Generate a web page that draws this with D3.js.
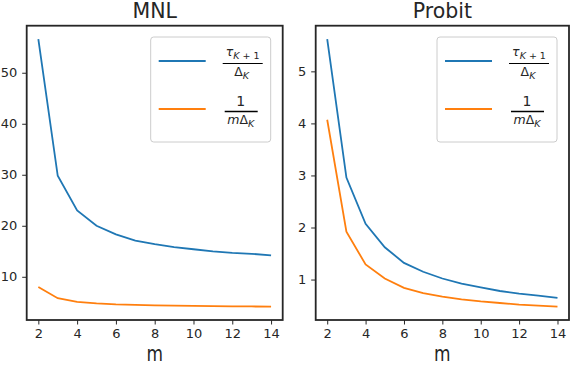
<!DOCTYPE html>
<html>
<head>
<meta charset="utf-8">
<script src="https://cdn.jsdelivr.net/npm/d3@7"></script>
<style>
  body { margin: 0; background: #fff; }
  text { font-family: "DejaVu Sans", sans-serif; fill: #262626; }
</style>
</head>
<body>
<div id="chart"></div>
<script>
// m values shared by both panels
let m_values = [2, 3, 4, 5, 6, 7, 8, 9, 10, 11, 12, 13, 14];

// MNL panel
let mnl_tau = [56.6, 29.8, 23.0, 20.0, 18.3, 17.1, 16.4, 15.8, 15.4, 15.0, 14.7, 14.5, 14.2];
let mnl_inv = [8.0, 5.8, 5.1, 4.8, 4.6, 4.5, 4.4, 4.35, 4.3, 4.25, 4.2, 4.18, 4.15];
let mnl_yticks = [10, 20, 30, 40, 50];

// Probit panel
let probit_tau = [5.62, 2.96, 2.07, 1.62, 1.32, 1.15, 1.02, 0.92, 0.85, 0.78, 0.73, 0.69, 0.65];
let probit_inv = [4.07, 1.92, 1.29, 1.02, 0.84, 0.74, 0.67, 0.62, 0.58, 0.55, 0.52, 0.50, 0.48];
let probit_yticks = [1, 2, 3, 4, 5];

let x_ticks = [2, 4, 6, 8, 10, 12, 14];
let titles = ["MNL", "Probit"];

let blue = "#1f77b4", orange = "#ff7f0e";

let svg = d3.select("#chart").append("svg")
    .attr("width", 570)
    .attr("height", 366);

function draw_panel(left, right, title, tau, inv, yticks) {
    let top = 25.7, bottom = 320;
    let all = tau.concat(inv);
    let lo = d3.min(all), hi = d3.max(all), pad = (hi - lo) * 0.05;

    let x = d3.scaleLinear()
        .domain([2 - 0.6, 14 + 0.6])
        .range([left, right]);
    let y = d3.scaleLinear()
        .domain([lo - pad, hi + pad])
        .range([bottom, top]);

    let g = svg.append("g");

    // lines
    let line = d3.line()
        .x((d, i) => x(m_values[i]))
        .y(d => y(d));
    g.append("path").datum(tau)
        .attr("fill", "none").attr("stroke", blue).attr("stroke-width", 1.8)
        .attr("d", line);
    g.append("path").datum(inv)
        .attr("fill", "none").attr("stroke", orange).attr("stroke-width", 1.8)
        .attr("d", line);

    // axes
    let xa = g.append("g")
        .attr("transform", "translate(0," + bottom + ")")
        .call(d3.axisBottom(x).tickValues(x_ticks).tickFormat(d3.format("d"))
              .tickSize(4.5).tickPadding(4).tickSizeOuter(0));
    let ya = g.append("g")
        .attr("transform", "translate(" + left + ",0)")
        .call(d3.axisLeft(y).tickValues(yticks).tickFormat(d3.format("d"))
              .tickSize(4.5).tickPadding(5).tickSizeOuter(0));
    [xa, ya].forEach(a => {
        a.select(".domain").remove();
        a.selectAll("line").attr("stroke", "#262626").attr("stroke-width", 1);
        a.selectAll("text").attr("font-size", 13).attr("font-family", "DejaVu Sans").attr("fill", "#262626");
    });

    // frame
    g.append("rect")
        .attr("x", left).attr("y", top)
        .attr("width", right - left).attr("height", bottom - top)
        .attr("fill", "none").attr("stroke", "#262626").attr("stroke-width", 1.8);

    // title
    g.append("text")
        .attr("x", (left + right) / 2).attr("y", 18)
        .attr("text-anchor", "middle").attr("font-size", 20.5)
        .text(title);

    // x label
    g.append("text")
        .attr("transform", "translate(" + ((left + right) / 2) + ",360.8) scale(0.87,1.1)")
        .attr("text-anchor", "middle").attr("font-size", 19.5)
        .text("m");

    // legend
    let lx = right - 132, ly = 37;
    let lg = g.append("g").attr("transform", "translate(" + lx + "," + ly + ")");
    lg.append("rect")
        .attr("width", 120).attr("height", 105).attr("rx", 3)
        .attr("fill", "white").attr("fill-opacity", 0.8)
        .attr("stroke", "#cccccc").attr("stroke-width", 1);
    lg.append("line").attr("x1", 8).attr("x2", 55).attr("y1", 24).attr("y2", 24)
        .attr("stroke", blue).attr("stroke-width", 1.8);
    lg.append("line").attr("x1", 8).attr("x2", 55).attr("y1", 72).attr("y2", 72)
        .attr("stroke", orange).attr("stroke-width", 1.8);

    let cx = 92;
    // first fraction: tau_{K+1} / Delta_K
    let n1 = lg.append("text").attr("x", cx).attr("y", 19).attr("text-anchor", "middle").attr("font-size", 12.5);
    n1.append("tspan").attr("font-style", "italic").text("τ");
    n1.append("tspan").attr("font-size", 9.5).attr("dy", 3).attr("font-style", "italic").text("K");
    n1.append("tspan").attr("font-size", 9.5).text(" + 1");
    lg.append("line").attr("x1", cx - 20).attr("x2", cx + 20).attr("y1", 26.5).attr("y2", 26.5)
        .attr("stroke", "#000").attr("stroke-width", 1.1);
    let d1 = lg.append("text").attr("x", cx - 1).attr("y", 39).attr("text-anchor", "middle").attr("font-size", 12.5);
    d1.append("tspan").text("Δ");
    d1.append("tspan").attr("font-size", 9.5).attr("dy", 3).attr("font-style", "italic").text("K");

    // second fraction: 1 / (m Delta_K)
    lg.append("text").attr("x", cx - 2).attr("y", 69).attr("text-anchor", "middle").attr("font-size", 14).text("1");
    lg.append("line").attr("x1", cx - 18).attr("x2", cx + 15).attr("y1", 74.5).attr("y2", 74.5)
        .attr("stroke", "#000").attr("stroke-width", 1.6);
    let d2 = lg.append("text").attr("x", cx - 2).attr("y", 87).attr("text-anchor", "middle").attr("font-size", 12.5);
    d2.append("tspan").attr("font-style", "italic").text("m");
    d2.append("tspan").text("Δ");
    d2.append("tspan").attr("font-size", 9.5).attr("dy", 3).attr("font-style", "italic").text("K");
}

draw_panel(26.7, 282.7, titles[0], mnl_tau, mnl_inv, mnl_yticks);
draw_panel(315.7, 569, titles[1], probit_tau, probit_inv, probit_yticks);
</script>
</body>
</html>
